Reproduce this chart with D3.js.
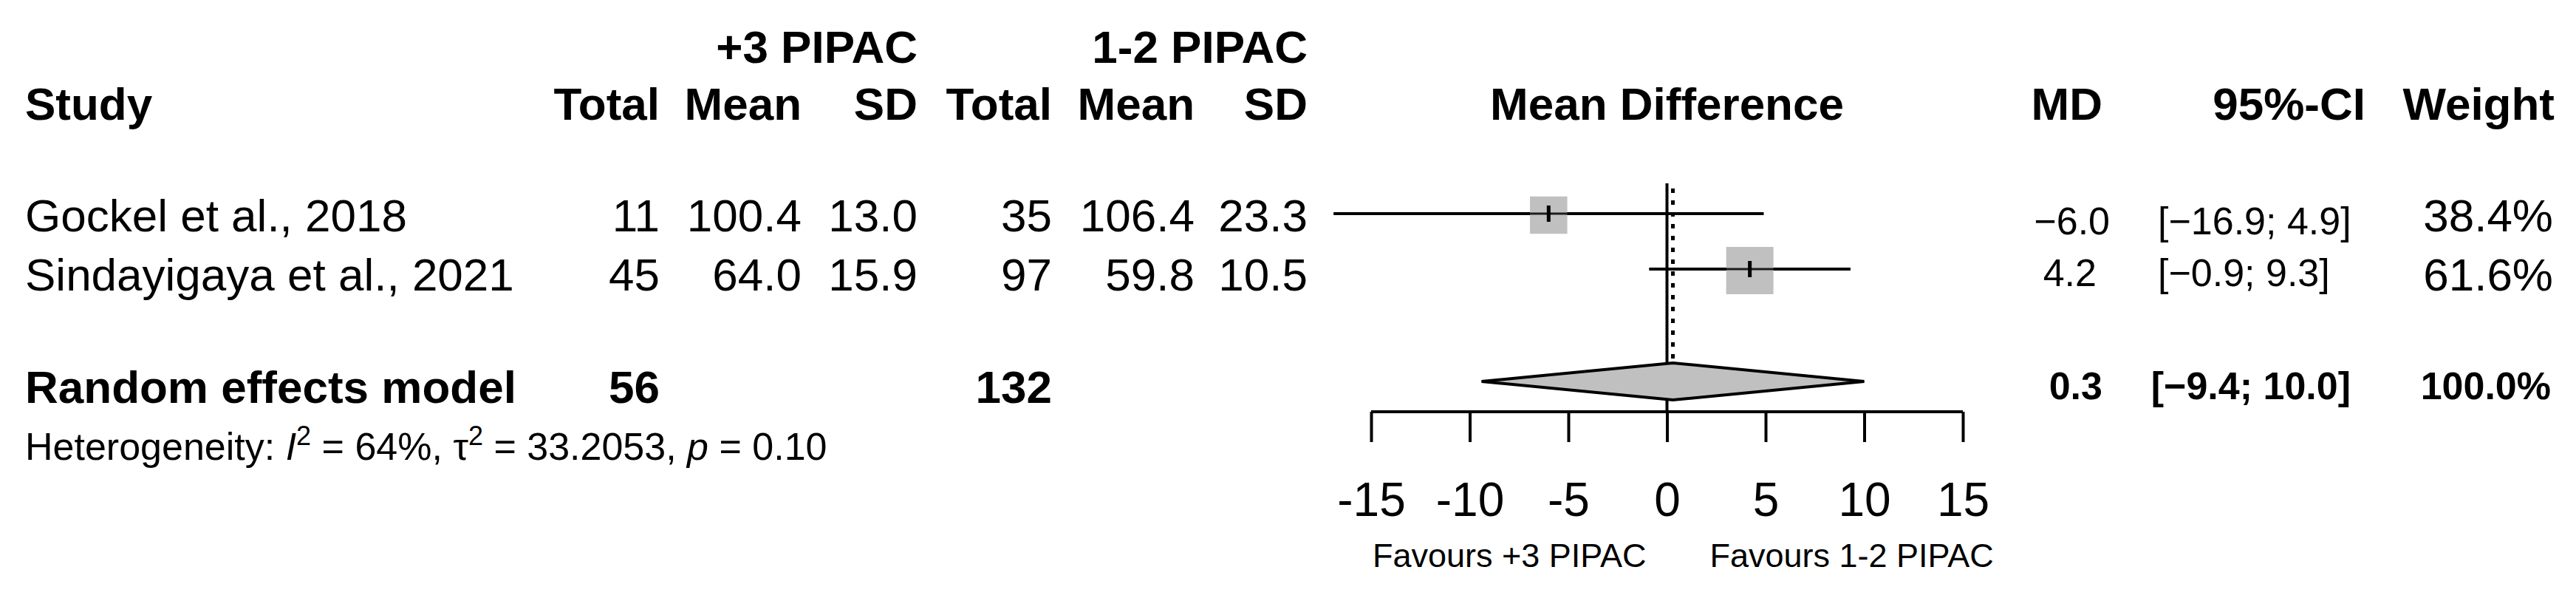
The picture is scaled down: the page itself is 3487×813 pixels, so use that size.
<!DOCTYPE html>
<html>
<head>
<meta charset="utf-8">
<script src="https://cdn.jsdelivr.net/npm/d3@7"></script>
<style>
  html, body { margin: 0; padding: 0; background: #fff; }
  svg { display: block; }
  text { font-family: "Liberation Sans", Arial, sans-serif; fill: #000; }
</style>
</head>
<body>
<svg id="chart" width="3487" height="813"></svg>
<script>
// ---------------- data ----------------
const studies = ["Gockel et al., 2018", "Sindayigaya et al., 2021"];
const totalA = [11, 45];
const meanA = [100.4, 64.0];
const sdA = [13.0, 15.9];
const totalB = [35, 97];
const meanB = [106.4, 59.8];
const sdB = [23.3, 10.5];
const md = [-6.0, 4.2];
const ciLow = [-16.9, -0.9];
const ciHigh = [4.9, 9.3];
const weight = [38.4, 61.6];

const pooledLabel = "Random effects model";
const pooledTotalA = 56;
const pooledTotalB = 132;
const pooledMD = 0.3;
const pooledLow = -9.4;
const pooledHigh = 10.0;
const pooledWeight = 100.0;

const groupLabels = ["+3 PIPAC", "1-2 PIPAC"];
const favourLabels = ["Favours +3 PIPAC", "Favours 1-2 PIPAC"];
const xTicks = [-15, -10, -5, 0, 5, 10, 15];
const hetI2 = "64%", hetTau2 = "33.2053", hetP = "0.10";

// ---------------- layout ----------------
const svg = d3.select("#chart");
svg.append("rect").attr("width", 3487).attr("height", 813).attr("fill", "#fff");

const x = d3.scaleLinear().domain([-15, 15]).range([1856, 2657]);
const rowLine = d3.scaleLinear().domain([0, 1]).range([289, 364]);   // plot row centres
const rowText = d3.scaleLinear().domain([0, 1]).range([313, 393]);   // text baselines
const boxSide = d3.scaleSqrt().domain([0, 100]).range([0, 81.5]);

const FS = 62, FS_S = 52;
const fmt1 = d3.format(".1f");
const fmtM = v => fmt1(v).replace("-", "\u2212");

// column right edges
const col = { study: 34, totA: 893, meanA: 1085, sdA: 1242, totB: 1424, meanB: 1617, sdB: 1770,
              md: 2846, ci: 3184, w: 3456 };

function txt(g, s, xx, yy, opt = {}) {
  return g.append("text").attr("x", xx).attr("y", yy)
    .attr("text-anchor", opt.anchor || "end")
    .attr("font-size", opt.size || FS)
    .attr("font-weight", opt.bold ? "bold" : "normal")
    .attr("fill", opt.fill || "#000")
    .text(s);
}

const g = svg.append("g");

// group headers
txt(g, groupLabels[0], col.sdA, 85, { bold: true });
txt(g, groupLabels[1], col.sdB, 85, { bold: true });

// column headers
const hy = 162;
txt(g, "Study", col.study, hy, { bold: true, anchor: "start" });
txt(g, "Total", col.totA, hy, { bold: true });
txt(g, "Mean", col.meanA, hy, { bold: true });
txt(g, "SD", col.sdA, hy, { bold: true });
txt(g, "Total", col.totB, hy, { bold: true });
txt(g, "Mean", col.meanB, hy, { bold: true });
txt(g, "SD", col.sdB, hy, { bold: true });
txt(g, "Mean Difference", x(0), hy, { bold: true, anchor: "middle" });
txt(g, "MD", col.md, hy, { bold: true });
txt(g, "95%-CI", 3202, hy, { bold: true });
txt(g, "Weight", 3458, hy, { bold: true });

// study rows
studies.forEach((s, i) => {
  const yy = rowText(i);
  txt(g, s, col.study, yy, { anchor: "start" });
  txt(g, totalA[i], col.totA, yy);
  txt(g, fmt1(meanA[i]), col.meanA, yy);
  txt(g, fmt1(sdA[i]), col.sdA, yy);
  txt(g, totalB[i], col.totB, yy);
  txt(g, fmt1(meanB[i]), col.meanB, yy);
  txt(g, fmt1(sdB[i]), col.sdB, yy);
  txt(g, fmtM(md[i]), col.md + (i === 0 ? 10 : -8), yy + (i === 0 ? 4 : -6), { size: FS_S });
  txt(g, "[" + fmtM(ciLow[i]) + "; " + fmtM(ciHigh[i]) + "]", 2921, yy + (i === 0 ? 4 : -6), { size: FS_S, anchor: "start" });
  txt(g, fmt1(weight[i]) + "%", col.w, yy);
});

// pooled row
const py = 545;
txt(g, pooledLabel, col.study, py, { bold: true, anchor: "start" });
txt(g, pooledTotalA, col.totA, py, { bold: true });
txt(g, pooledTotalB, col.totB, py, { bold: true });
txt(g, fmtM(pooledMD), col.md, 540, { bold: true, size: FS_S });
txt(g, "[" + fmtM(pooledLow) + "; " + fmtM(pooledHigh) + "]", 3182, 540, { bold: true, size: FS_S });
txt(g, fmt1(pooledWeight) + "%", 3453, 540, { bold: true, size: FS_S });

// heterogeneity
const het = g.append("text").attr("x", col.study).attr("y", 622).attr("font-size", FS_S);
het.append("tspan").text("Heterogeneity: ");
het.append("tspan").attr("font-style", "italic").text("I");
het.append("tspan").attr("dy", -20).attr("font-size", 36).text("2");
het.append("tspan").attr("dy", 20).text(" = " + hetI2 + ", ");
het.append("tspan").text("\u03C4");
het.append("tspan").attr("dy", -20).attr("font-size", 36).text("2");
het.append("tspan").attr("dy", 20).text(" = " + hetTau2 + ", ");
het.append("tspan").attr("font-style", "italic").text("p");
het.append("tspan").text(" = " + hetP);

// ---------------- forest plot ----------------
const plot = svg.append("g");
const axisY = 557;
const pooledY = 516;

// solid reference line at 0
plot.append("line").attr("x1", x(0)).attr("x2", x(0)).attr("y1", 248).attr("y2", axisY)
  .attr("stroke", "#000").attr("stroke-width", 4);

// CI lines
plot.selectAll("line.ci").data(studies).enter().append("line").attr("class", "ci")
  .attr("x1", (d, i) => x(ciLow[i])).attr("x2", (d, i) => x(ciHigh[i]))
  .attr("y1", (d, i) => rowLine(i)).attr("y2", (d, i) => rowLine(i))
  .attr("stroke", "#000").attr("stroke-width", 4);

// boxes
plot.selectAll("rect.box").data(studies).enter().append("rect").attr("class", "box")
  .attr("x", (d, i) => x(md[i]) - boxSide(weight[i]) / 2)
  .attr("y", (d, i) => rowLine(i) - boxSide(weight[i]) / 2 + 2)
  .attr("width", (d, i) => boxSide(weight[i]))
  .attr("height", (d, i) => boxSide(weight[i]))
  .attr("fill", "#c0c0c0");

// CI line drawn through the square
plot.selectAll("line.ci2").data(studies).enter().append("line").attr("class", "ci2")
  .attr("x1", (d, i) => x(ciLow[i])).attr("x2", (d, i) => x(ciHigh[i]))
  .attr("y1", (d, i) => rowLine(i)).attr("y2", (d, i) => rowLine(i))
  .attr("stroke", "#000").attr("stroke-width", 3).attr("stroke-opacity", 0.85);

// point estimate marks
plot.selectAll("line.est").data(studies).enter().append("line").attr("class", "est")
  .attr("x1", (d, i) => x(md[i])).attr("x2", (d, i) => x(md[i]))
  .attr("y1", (d, i) => rowLine(i) - 11).attr("y2", (d, i) => rowLine(i) + 11)
  .attr("stroke", "#000").attr("stroke-width", 5);

// dotted pooled line
plot.append("line").attr("x1", x(pooledMD)).attr("x2", x(pooledMD)).attr("y1", 255).attr("y2", pooledY - 24)
  .attr("stroke", "#000").attr("stroke-width", 5).attr("stroke-dasharray", "6,10");

// diamond
const dh = 25;
const diamond = [[x(pooledLow), pooledY], [x(pooledMD), pooledY - dh], [x(pooledHigh), pooledY], [x(pooledMD), pooledY + dh]];
plot.append("path").attr("d", d3.line()(diamond) + "Z")
  .attr("fill", "#c0c0c0").attr("stroke", "#000").attr("stroke-width", 4).attr("stroke-linejoin", "miter");

// axis
const axis = d3.axisBottom(x).tickValues(xTicks).tickSize(41).tickPadding(52)
  .tickFormat(d => String(d));
const ax = svg.append("g").attr("transform", `translate(0,${axisY})`).call(axis);
ax.select(".domain").attr("stroke", "#000").attr("stroke-width", 4)
  .attr("d", `M${x(-15)},0H${x(15)}`);
ax.selectAll(".tick line").attr("stroke", "#000").attr("stroke-width", 4);
ax.selectAll(".tick text").attr("font-size", 64).attr("font-family", "Liberation Sans, Arial, sans-serif")
  .attr("fill", "#000").attr("dy", "0").attr("y", 141);

// favours labels
txt(svg, favourLabels[0], x(0) - 28, 767, { size: 45, fill: "#444" });
txt(svg, favourLabels[1], x(0) + 58, 767, { size: 45, fill: "#444", anchor: "start" });
</script>
</body>
</html>
